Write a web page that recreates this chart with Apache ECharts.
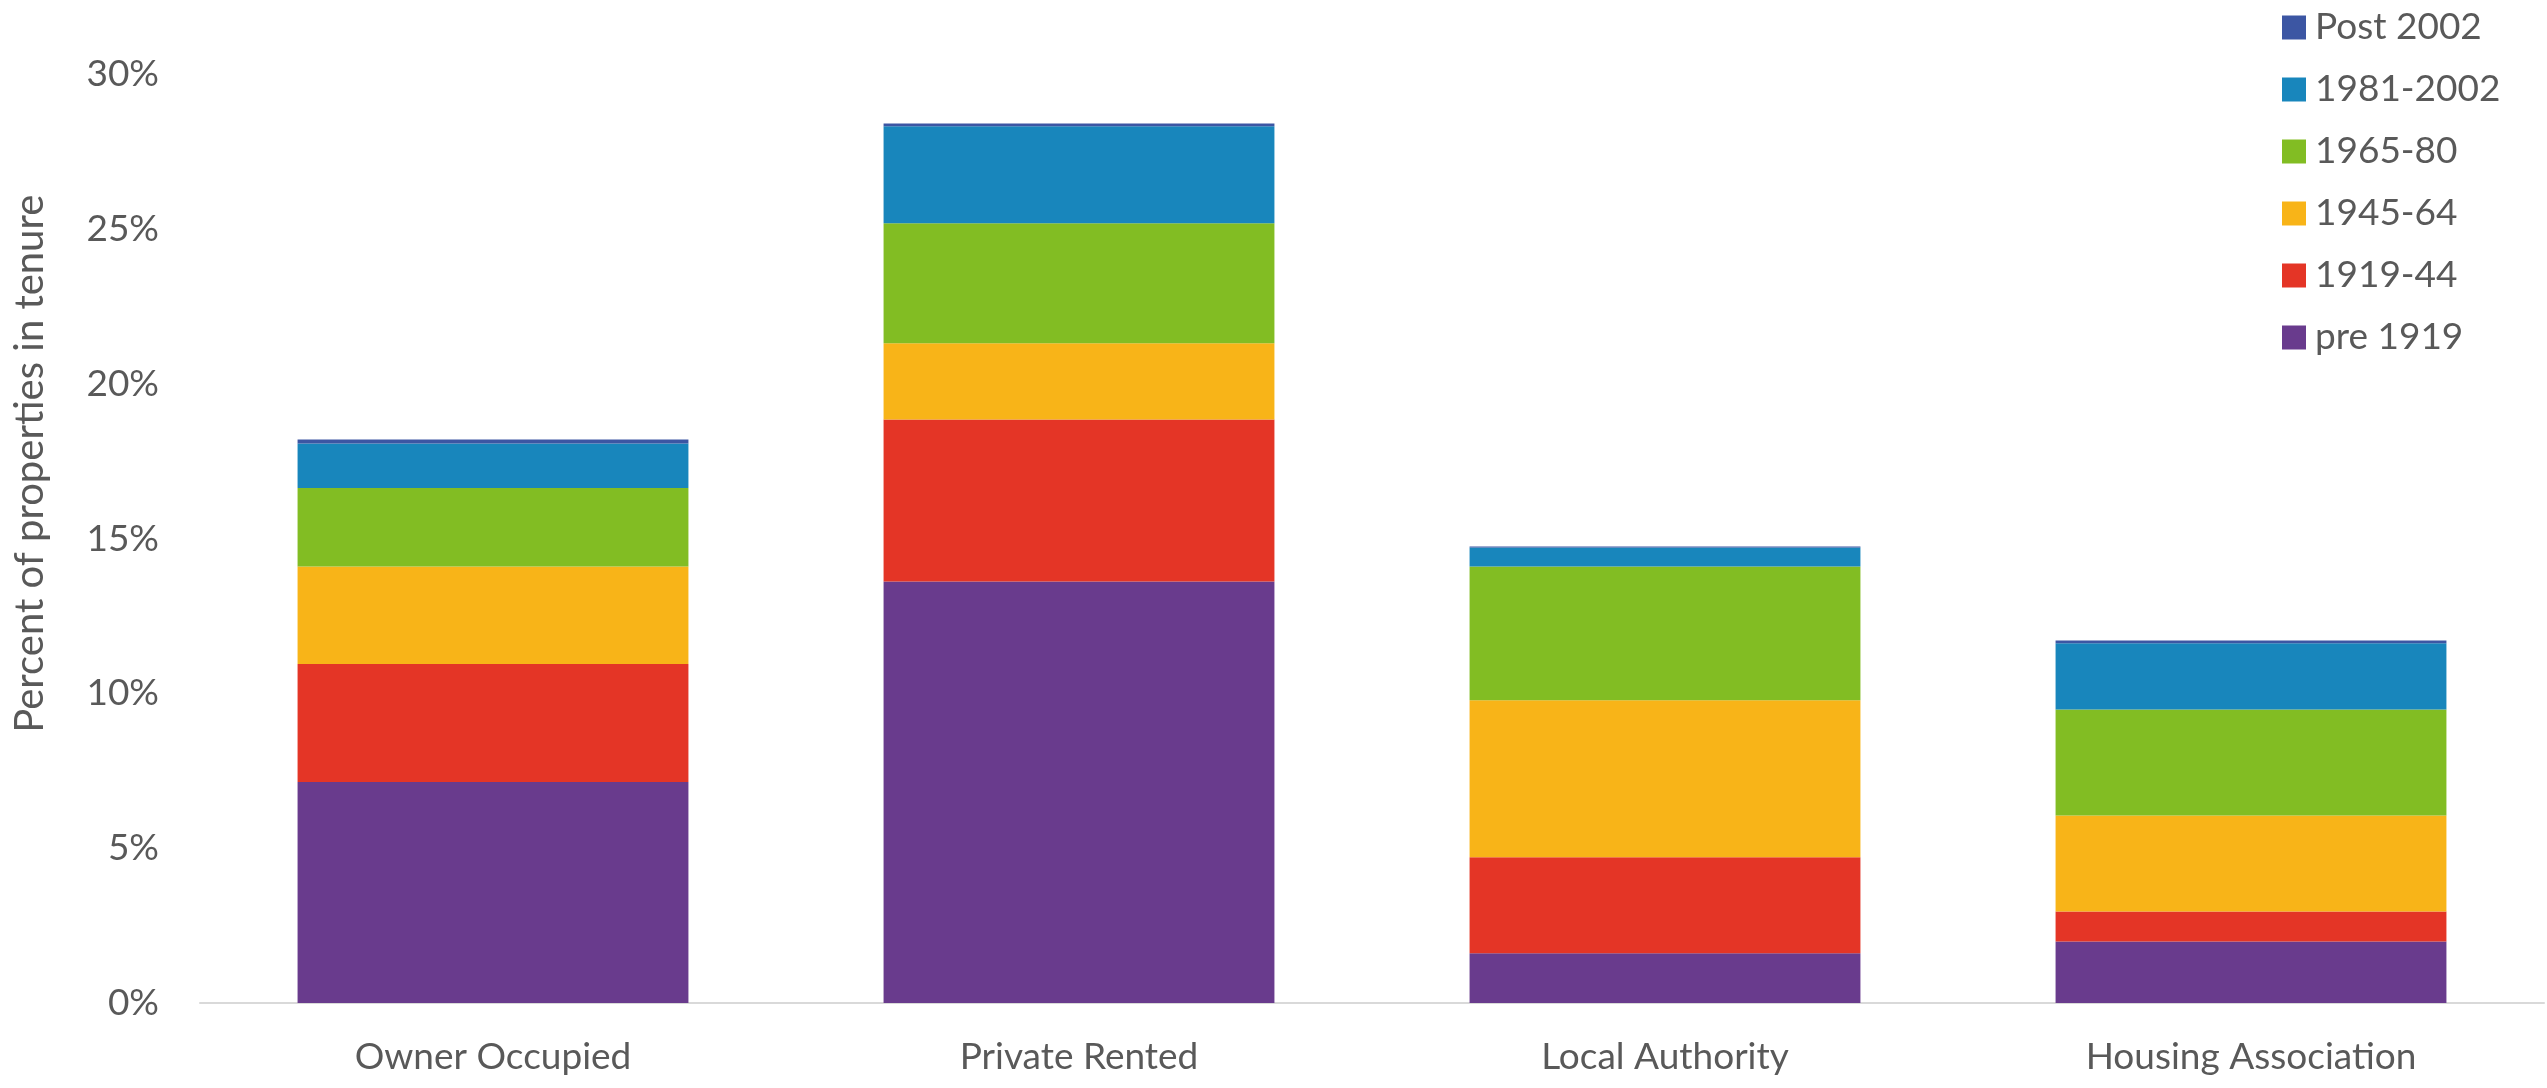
<!DOCTYPE html>
<html>
<head>
<meta charset="utf-8">
<script src="https://cdn.jsdelivr.net/npm/echarts@6/dist/echarts.min.js"></script>
<style>
  html, body { margin: 0; padding: 0; background: #ffffff; }
  #chart { width: 2547px; height: 1088px; }
</style>
</head>
<body>
<div id="chart"></div>
<script>
const categories = ['Owner Occupied', 'Private Rented', 'Local Authority', 'Housing Association'];
const seriesNames = ['pre 1919', '1919-44', '1945-64', '1965-80', '1981-2002', 'Post 2002'];
const pre1919   = [7.14, 13.62, 1.61, 1.99];
const y1919_44  = [3.81, 5.23, 3.10, 0.97];
const y1945_64  = [3.15, 2.47, 5.07, 3.10];
const y1965_80  = [2.54, 3.87, 4.32, 3.42];
const y1981_2002 = [1.44, 3.14, 0.62, 2.14];
const post2002  = [0.13, 0.09, 0.03, 0.09];
const yTicks = [0, 5, 10, 15, 20, 25, 30];
const colors = ['#693B8D', '#E43526', '#F8B418', '#82BD23', '#1886BC', '#3C56A3'];

const seriesData = [pre1919, y1919_44, y1945_64, y1965_80, y1981_2002, post2002];
const FONT = 'Lato';
const TEXT = '#595959';

const chart = echarts.init(document.getElementById('chart'));
chart.setOption({
  animation: false,
  color: colors,
  textStyle: { fontFamily: FONT },
  grid: { left: 200, right: 3, top: 74.5, bottom: 85, containLabel: false },
  legend: {
    orient: 'vertical',
    left: 2277,
    top: 2,
    icon: 'rect',
    itemWidth: 24,
    itemHeight: 24,
    itemGap: 21,
    data: seriesNames.slice().reverse(),
    textStyle: { color: TEXT, fontSize: 37, fontFamily: FONT, lineHeight: 41, padding: [0, 0, 0, 4] }
  },
  xAxis: {
    type: 'category',
    data: categories,
    axisLine: { show: true, lineStyle: { color: '#D9D9D9', width: 2 } },
    axisTick: { show: false },
    axisLabel: { color: TEXT, fontSize: 37, fontFamily: FONT, margin: 36 }
  },
  yAxis: {
    type: 'value',
    min: yTicks[0],
    max: yTicks[yTicks.length - 1],
    interval: 5,
    splitLine: { show: false },
    axisLine: { show: false },
    axisTick: { show: false },
    axisLabel: { color: TEXT, fontSize: 37, fontFamily: FONT, margin: 41, formatter: v => v + '%' },
    name: 'Percent of properties in tenure',
    nameLocation: 'middle',
    nameRotate: 90,
    nameGap: 150,
    nameTextStyle: { color: TEXT, fontSize: 40, fontFamily: FONT, padding: [0, 0, 0, 150] }
  },
  series: seriesNames.map((name, i) => ({
    name: name,
    type: 'bar',
    stack: 'total',
    barCategoryGap: '33.3%',
    data: seriesData[i],
    itemStyle: { color: colors[i] }
  }))
});
</script>
</body>
</html>
